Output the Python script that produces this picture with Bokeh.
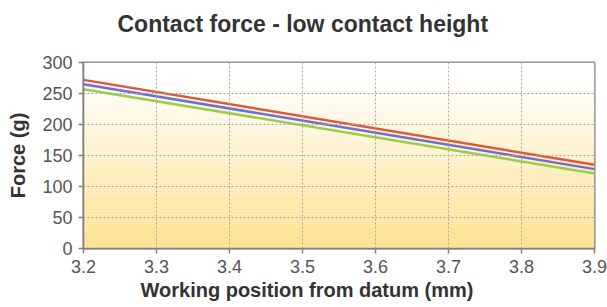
import numpy as np
from bokeh.plotting import figure
from bokeh.models import FixedTicker, Title
from bokeh.embed import file_html
from bokeh.resources import INLINE

x_pos = [3.2, 3.9]
force_red = [272, 135]
force_blue = [265, 128]
force_green = [257, 121]
x_ticks = [3.2, 3.3, 3.4, 3.5, 3.6, 3.7, 3.8, 3.9]
y_ticks = [0, 50, 100, 150, 200, 250, 300]

FONT = "Liberation Sans"

p = figure(width=607, height=307, output_backend="svg", toolbar_location=None,
           x_range=(3.2, 3.9), y_range=(0, 300),
           min_border_left=83, min_border_right=13, min_border_top=62, min_border_bottom=59)
p.title = Title(text="Contact force - low contact height", align="left", offset=34,
                text_font=FONT, text_font_size="23px", text_font_style="bold",
                text_color="#333333", standoff=0)
spacer = Title(text=" ", text_font_size="1px", standoff=23)
p.add_layout(spacer, "above")

xlab = Title(text="Working position from datum (mm)", align="left", offset=57,
             text_font=FONT, text_font_size="20px", text_font_style="bold",
             text_color="#333333", standoff=2)
p.add_layout(xlab, "below")

# gradient background
n = 60
edges = np.linspace(0, 300, n + 1)
top_c = np.array([255, 255, 255])
bot_c = np.array([255, 224, 142])
cols = []
for i in range(n):
    t = (edges[i] + edges[i + 1]) / 2 / 300
    t = min(1.0, t / 0.92)
    c = bot_c + (top_c - bot_c) * t
    cols.append("#%02x%02x%02x" % tuple(int(round(v)) for v in c))
p.quad(left=3.2, right=3.9, bottom=edges[:-1], top=edges[1:], fill_color=cols,
       line_color=None)

p.line(x_pos, force_green, line_color="#9ccc4c", line_width=2.5)
p.line(x_pos, force_blue, line_color="#6f6fcc", line_width=2.5)
p.line(x_pos, force_red, line_color="#dc5a3c", line_width=2.5)

p.background_fill_color = "white"
p.border_fill_color = "white"
p.outline_line_color = "#808080"
p.outline_line_width = 2

p.xaxis.ticker = FixedTicker(ticks=x_ticks)
p.yaxis.ticker = FixedTicker(ticks=y_ticks)
p.xaxis.minor_tick_line_color = None
p.yaxis.minor_tick_line_color = None
p.xaxis.major_label_overrides = {3.2: "3.2", 3.3: "3.3", 3.4: "3.4", 3.5: "3.5",
                                 3.6: "3.6", 3.7: "3.7", 3.8: "3.8", 3.9: "3.9"}
for ax in (p.xaxis, p.yaxis):
    ax.axis_line_color = "#808080"
    ax.axis_line_width = 1.5
    ax.major_tick_line_color = "#808080"
    ax.major_tick_line_width = 1.5
    ax.major_tick_out = 5
    ax.major_tick_in = 0
    ax.major_label_text_font = FONT
    ax.major_label_text_font_size = "18px"
    ax.major_label_text_color = "#555555"
    ax.axis_label_text_font = FONT
    ax.axis_label_text_font_size = "20px"
    ax.axis_label_text_font_style = "bold"
    ax.axis_label_text_color = "#333333"
p.yaxis.axis_label = "Force (g)"
p.xaxis.major_label_standoff = 6
p.yaxis.major_label_standoff = 6
p.yaxis.axis_label_standoff = 10

p.xgrid.grid_line_color = "#a8a8a8"
p.ygrid.grid_line_color = "#a8a8a8"
p.xgrid.grid_line_dash = "2 2"
p.ygrid.grid_line_dash = "2 2"
p.xgrid.grid_line_width = 1
p.ygrid.grid_line_width = 1
p.xgrid.level = "overlay"
p.ygrid.level = "overlay"

open("out.html", "w").write(file_html(p, INLINE))
